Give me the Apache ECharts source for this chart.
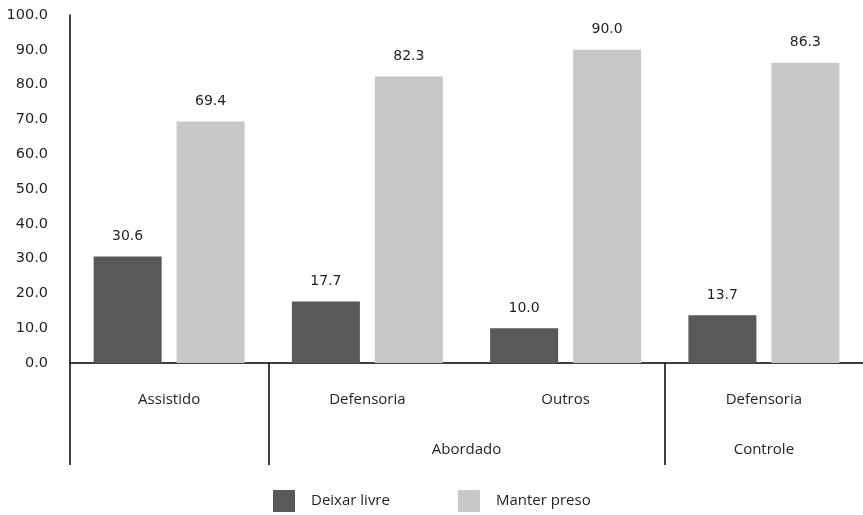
<!DOCTYPE html>
<html>
<head>
<meta charset="utf-8">
<script src="https://cdn.jsdelivr.net/npm/echarts@6/dist/echarts.min.js"></script>
<style>
  html, body { margin: 0; padding: 0; background: #ffffff; }
  #chart { width: 863px; height: 515px; }
</style>
</head>
<body>
<div id="chart"></div>
<script>
// Subgroups along the bottom axis
const categories = ['Assistido', 'Defensoria', 'Outros', 'Defensoria'];
// Outer grouping: label text and its position on the 0..4 group scale
const groupLabels = ['Abordado', 'Controle'];
const groupLabelPositions = [2, 3.5];
// Group boundaries that get a long vertical divider
const groupDividers = [0, 1, 3];

const seriesNames = ['Deixar livre', 'Manter preso'];
const deixarLivre = [30.6, 17.7, 10.0, 13.7];
const manterPreso = [69.4, 82.3, 90.0, 86.3];

const yTicks = [0, 10, 20, 30, 40, 50, 60, 70, 80, 90, 100];

const FONT = '"Open Sans", sans-serif';
const NUM_FONT = '"DejaVu Sans", sans-serif';
const TEXT = '#231f20';
const DARK = '#58595b';
const LIGHT = '#c7c8ca';

const chart = echarts.init(document.getElementById('chart'), null, { renderer: 'canvas' });

const valueLabel = {
  show: true,
  position: 'top',
  distance: 13,
  color: TEXT,
  fontFamily: NUM_FONT,
  fontSize: 14,
  formatter: p => p.value.toFixed(1)
};

chart.setOption({
  animation: false,
  backgroundColor: '#ffffff',
  textStyle: { fontFamily: FONT, color: TEXT },
  grid: { left: 70, right: -3, top: 15, bottom: 152, containLabel: false },
  legend: {
    data: seriesNames,
    left: 273,
    top: 490,
    padding: 0,
    itemWidth: 22,
    itemHeight: 22,
    itemGap: 68,
    icon: 'rect',
    textStyle: { color: TEXT, fontFamily: FONT, fontSize: 15, padding: [0, 0, 0, 11] }
  },
  xAxis: [
    {
      type: 'category',
      data: categories,
      position: 'bottom',
      axisLine: { show: true, lineStyle: { color: '#000000', width: 1.5 } },
      axisTick: { show: false },
      axisLabel: { margin: 29, color: TEXT, fontFamily: FONT, fontSize: 15 },
      splitLine: { show: false }
    },
    {
      type: 'value',
      min: 0,
      max: 4,
      position: 'bottom',
      offset: 0,
      axisLine: { show: false },
      axisTick: {
        show: true,
        customValues: groupDividers,
        length: 102,
        lineStyle: { color: '#000000', width: 1.5 }
      },
      axisLabel: {
        show: true,
        customValues: groupLabelPositions,
        margin: 79,
        color: TEXT,
        fontFamily: FONT,
        fontSize: 15,
        formatter: v => {
          const i = groupLabelPositions.indexOf(v);
          return i >= 0 ? groupLabels[i] : '';
        }
      },
      splitLine: { show: false }
    }
  ],
  yAxis: {
    type: 'value',
    min: yTicks[0],
    max: yTicks[yTicks.length - 1],
    interval: 10,
    axisLine: { show: true, lineStyle: { color: '#000000', width: 1.5 } },
    axisTick: { show: false },
    splitLine: { show: false },
    axisLabel: {
      margin: 22,
      color: TEXT,
      fontFamily: NUM_FONT,
      fontSize: 14.5,
      formatter: v => v.toFixed(1)
    }
  },
  series: [
    {
      name: seriesNames[0],
      type: 'bar',
      xAxisIndex: 0,
      data: deixarLivre,
      barWidth: 68,
      barGap: '22%',
      itemStyle: { color: DARK },
      label: valueLabel
    },
    {
      name: seriesNames[1],
      type: 'bar',
      xAxisIndex: 0,
      data: manterPreso,
      barWidth: 68,
      barGap: '22%',
      itemStyle: { color: LIGHT },
      label: valueLabel
    }
  ]
});
</script>
</body>
</html>
